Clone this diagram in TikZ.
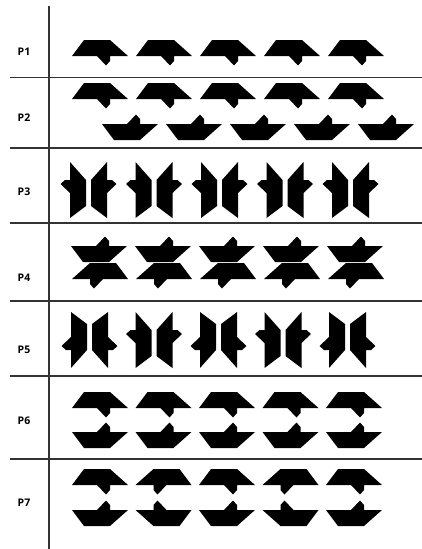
\documentclass[tikz,border=0pt]{standalone}
\usepackage{fontspec}
\setmainfont{Open Sans}
\usepackage{tikz}

% orientations of the motif (image coordinates, y pointing down)
\tikzset{
  motifup/.style={x={(1pt,0)},y={(0,-1pt)}},
  motifflip/.style={x={(1pt,0)},y={(0,1pt)}},
  motifmirror/.style={x={(-1pt,0)},y={(0,-1pt)}},
  motifturn/.style={x={(-1pt,0)},y={(0,1pt)}},
  wingleft/.style={x={(0,1pt)},y={(-1pt,0)}},
  wingright/.style={x={(0,1pt)},y={(1pt,0)}},
  wingleftlow/.style={x={(0,-1pt)},y={(-1pt,0)}},
  wingrightlow/.style={x={(0,-1pt)},y={(1pt,0)}},
  rowlabel/.style={font=\bfseries\fontsize{10.5}{12}\selectfont},
  rowrule/.style={line width=1.5pt, black!80}
}
\newcommand{\motif}[3]{%
  \fill[shift={(#1,#2)},#3] (-38,0) -- (-26,-16) -- (0,-16) -- (18,0) -- (0,0)
    -- (0,5) -- (-4,9.5) -- (-13,0) -- cycle;}

\begin{document}
\begin{tikzpicture}[x=1pt,y=-1pt]
    \useasboundingbox (0,0) rectangle (422,549);
    % frame
    \draw[rowrule] (49,6) -- (49,549);
    \foreach \y in {77.5,148,223,301,376,459}
        \draw[rowrule] (10,\y) -- (422,\y);
    % labels
    \node[rowlabel] (p1) at (24,52) {P1};
    \node[rowlabel] (p2) at (24,118) {P2};
    \node[rowlabel] (p3) at (24,192) {P3};
    \node[rowlabel] (p4) at (24,278) {P4};
    \node[rowlabel] (p5) at (24,350) {P5};
    \node[rowlabel] (p6) at (24,421) {P6};
    \node[rowlabel] (p7) at (24,503) {P7};
    % P1 to P4, P6
    \foreach \i in {0,...,4} {
        \motif{110+64*\i}{56}{motifup}
        \motif{110+64*\i}{99}{motifup}
        \motif{140+64*\i}{124}{motifflip}
        \motif{70+65.5*\i}{180}{wingleft}
        \motif{107+65.5*\i}{180}{wingright}
        \motif{109+64*\i}{246}{motifflip}
        \motif{90+64*\i}{279}{motifmirror}
        \motif{110+63.5*\i}{408}{motifup}
        \motif{110+63.5*\i}{432}{motifflip}
    }
    % P5 and P7 alternate
    \foreach \i in {0,2,4} {
        \motif{71+64.5*\i}{350}{wingleftlow}
        \motif{108+64.5*\i}{350}{wingrightlow}
        \motif{110+63.5*\i}{485}{motifup}
        \motif{110+63.5*\i}{510}{motifflip}
    }
    \foreach \i in {1,3} {
        \motif{71+64.5*\i}{330}{wingleft}
        \motif{108+64.5*\i}{330}{wingright}
        \motif{90+63.5*\i}{485}{motifmirror}
        \motif{90+63.5*\i}{510}{motifturn}
    }
\end{tikzpicture}
\end{document}
